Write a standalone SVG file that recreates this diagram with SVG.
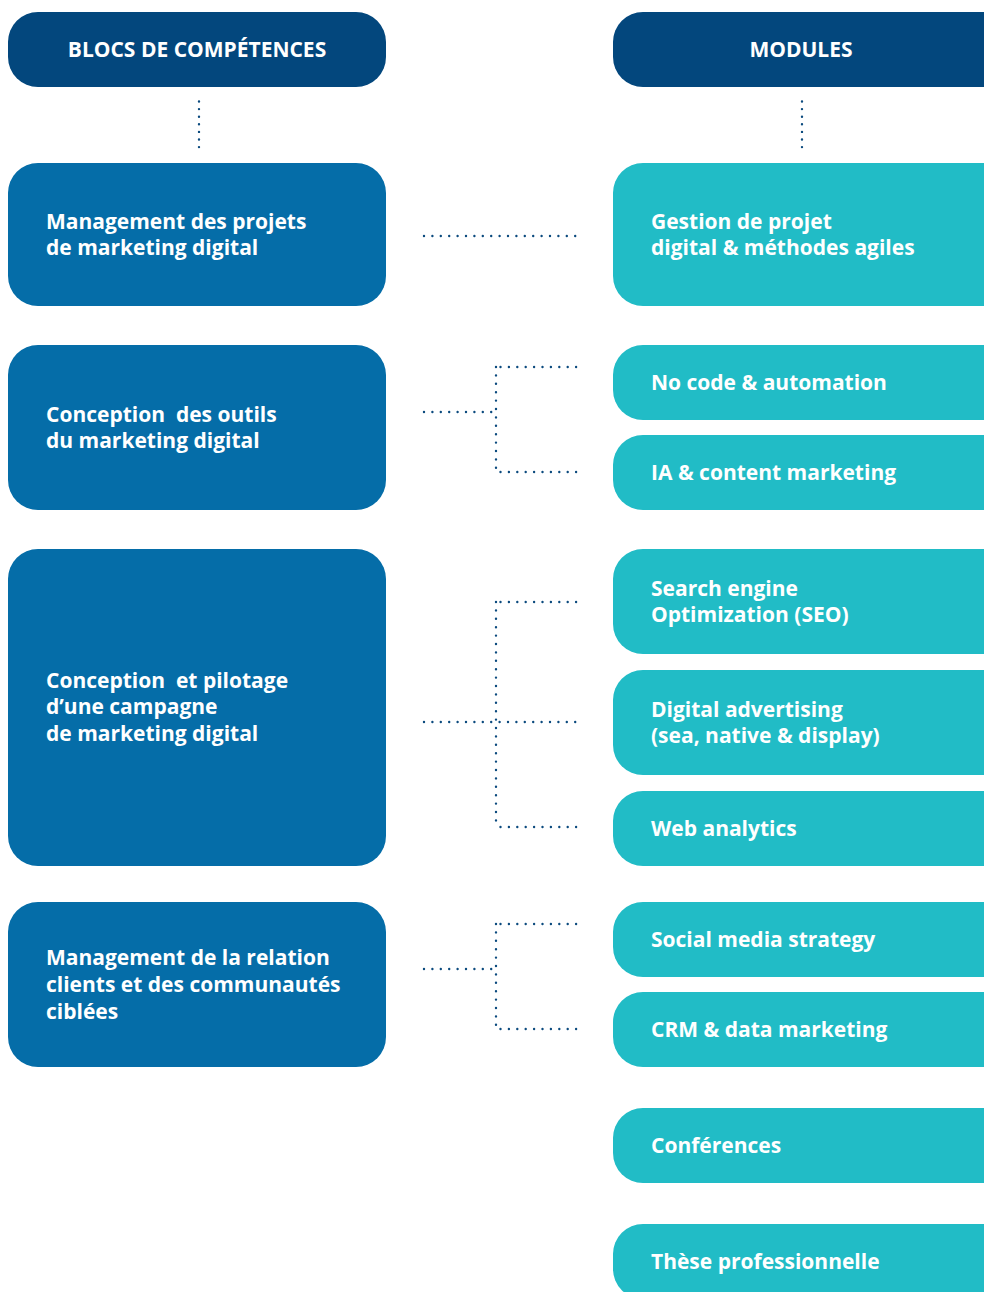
<svg xmlns="http://www.w3.org/2000/svg" width="984" height="1292" viewBox="0 0 984 1292">
<style>
.hdr{fill:#03477D}
.blk{fill:#056DA8}
.mod{fill:#21BCC6}
text{font-family:"Open Sans","Noto Sans","Liberation Sans",sans-serif;font-weight:700;fill:#fff;white-space:pre}
.h{font-size:21px;text-anchor:middle}
.t{font-size:21px}
.c path{fill:none;stroke:#0B4A7E;stroke-width:2.4;stroke-linecap:round;stroke-dasharray:0 8.4}
.c path.v{stroke-dasharray:0 7.6}
</style>
<rect width="984" height="1292" fill="#fff"/>
<g id="hdr-blocs"><rect class="hdr" x="8" y="12" width="378" height="75" rx="30"/><text class="h" x="197" y="57">BLOCS DE COMPÉTENCES</text></g>
<g id="hdr-modules"><rect class="hdr" x="613" y="12" width="420" height="75" rx="30"/><text class="h" x="801" y="57">MODULES</text></g>

<g class="c" id="connectors">
<path class="v" d="M199 101.5V148"/>
<path class="v" d="M802 101.5V148"/>
<path d="M424 236H577"/>
<path d="M424 412H492"/><path d="M496 367V473"/><path d="M500.5 367H577"/><path d="M500.5 472H577"/>
<path d="M424 722H577"/><path d="M496 602V828"/><path d="M500.5 602H577"/><path d="M500.5 827H577"/>
<path d="M424 969H492"/><path d="M496 924V1030"/><path d="M500.5 924H577"/><path d="M500.5 1029H577"/>
</g>

<g id="bloc1"><rect class="blk" x="8" y="163" width="378" height="143" rx="30"/><text class="t" x="46" y="229">Management des projets</text><text class="t" x="46" y="255">de marketing digital</text></g>
<g id="bloc2"><rect class="blk" x="8" y="345" width="378" height="165" rx="30"/><text class="t" x="46" y="422">Conception  des outils</text><text class="t" x="46" y="448">du marketing digital</text></g>
<g id="bloc3"><rect class="blk" x="8" y="549" width="378" height="317" rx="30"/><text class="t" x="46" y="688">Conception  et pilotage</text><text class="t" x="46" y="714">d’une campagne</text><text class="t" x="46" y="741">de marketing digital</text></g>
<g id="bloc4"><rect class="blk" x="8" y="902" width="378" height="165" rx="30"/><text class="t" x="46" y="965">Management de la relation</text><text class="t" x="46" y="992">clients et des communautés</text><text class="t" x="46" y="1019">ciblées</text></g>

<g id="mod1"><rect class="mod" x="613" y="163" width="420" height="143" rx="30"/><text class="t" x="651" y="229">Gestion de projet</text><text class="t" x="651" y="255">digital &amp; méthodes agiles</text></g>
<g id="mod2"><rect class="mod" x="613" y="345" width="420" height="75" rx="30"/><text class="t" x="651" y="390">No code &amp; automation</text></g>
<g id="mod3"><rect class="mod" x="613" y="435" width="420" height="75" rx="30"/><text class="t" x="651" y="480">IA &amp; content marketing</text></g>
<g id="mod4"><rect class="mod" x="613" y="549" width="420" height="105" rx="30"/><text class="t" x="651" y="596">Search engine</text><text class="t" x="651" y="622">Optimization (SEO)</text></g>
<g id="mod5"><rect class="mod" x="613" y="670" width="420" height="105" rx="30"/><text class="t" x="651" y="717">Digital advertising</text><text class="t" x="651" y="743">(sea, native &amp; display)</text></g>
<g id="mod6"><rect class="mod" x="613" y="791" width="420" height="75" rx="30"/><text class="t" x="651" y="836">Web analytics</text></g>
<g id="mod7"><rect class="mod" x="613" y="902" width="420" height="75" rx="30"/><text class="t" x="651" y="947">Social media strategy</text></g>
<g id="mod8"><rect class="mod" x="613" y="992" width="420" height="75" rx="30"/><text class="t" x="651" y="1037">CRM &amp; data marketing</text></g>
<g id="mod9"><rect class="mod" x="613" y="1108" width="420" height="75" rx="30"/><text class="t" x="651" y="1153">Conférences</text></g>
<g id="mod10"><rect class="mod" x="613" y="1224" width="420" height="75" rx="30"/><text class="t" x="651" y="1269">Thèse professionnelle</text></g>
</svg>
